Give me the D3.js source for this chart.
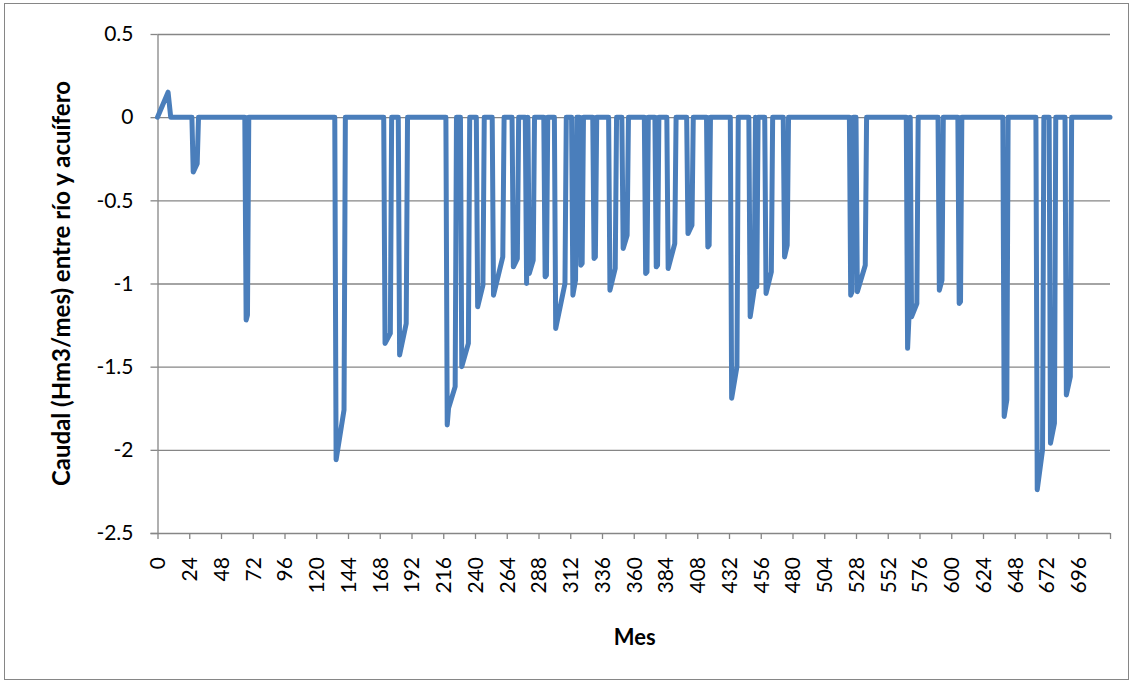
<!DOCTYPE html>
<html>
<head>
<meta charset="utf-8">
<script src="https://cdn.jsdelivr.net/npm/d3@7"></script>
<style>
  body { margin: 0; background: #fff; }
  text { font-family: Lato, "Open Sans", sans-serif; }
</style>
</head>
<body>
<div id="chart"></div>
<script>
// mes / caudal: puntos (entre puntos el valor es 0)
const months = [
  0, 8, 10,
  26, 27, 30, 31,
  66, 67, 68, 69,
  134, 135, 141, 142,
  171, 172, 176, 177,
  182, 183, 188, 189,
  218, 219, 220, 225, 226,
  229, 230, 235, 236,
  241, 242, 246, 247,
  253, 254, 261, 262,
  268, 269, 272, 273,
  278, 279, 280, 281, 284, 285,
  292, 293, 294, 295,
  300, 301, 308, 309,
  313, 314, 316, 317,
  319, 320, 321, 322,
  329, 330, 331, 332,
  341, 342, 346, 347,
  351, 352, 355, 356,
  368, 369, 370, 371,
  376, 377, 378, 379,
  385, 386, 391, 392,
  400, 401, 404, 405,
  415, 416, 417, 418,
  433, 434, 438, 439,
  447, 448, 451, 452, 453, 454,
  459, 460, 464, 465,
  473, 474, 476, 477,
  523, 524, 525, 526,
  528, 529, 535, 536,
  566, 567, 568, 569, 570, 574, 575,
  590, 591, 593, 594,
  605, 606, 607, 608,
  639, 640, 642, 643,
  664, 665, 669, 670,
  674, 675, 678, 679,
  686, 687, 690, 691,
  720
];
const flow = [
  0, 0.15, 0,
  0, -0.33, -0.28, 0,
  0, -1.22, -1.19, 0,
  0, -2.06, -1.76, 0,
  0, -1.36, -1.30, 0,
  0, -1.43, -1.24, 0,
  0, -1.85, -1.75, -1.62, 0,
  0, -1.50, -1.36, 0,
  0, -1.14, -1.01, 0,
  0, -1.07, -0.84, 0,
  0, -0.90, -0.85, 0,
  0, -1.00, 0, -0.94, -0.86, 0,
  0, -0.96, -0.95, 0,
  0, -1.27, -1.00, 0,
  0, -1.07, -0.98, 0,
  0, -0.89, -0.88, 0,
  0, -0.85, -0.84, 0,
  0, -1.04, -0.91, 0,
  0, -0.79, -0.71, 0,
  0, -0.94, -0.93, 0,
  0, -0.90, -0.89, 0,
  0, -0.91, -0.76, 0,
  0, -0.70, -0.65, 0,
  0, -0.78, -0.77, 0,
  0, -1.69, -1.50, 0,
  0, -1.20, -1.04, 0, -1.02, 0,
  0, -1.06, -0.93, 0,
  0, -0.84, -0.77, 0,
  0, -1.07, -1.05, 0,
  0, -1.05, -0.89, 0,
  0, -1.39, -1.21, 0, -1.20, -1.12, 0,
  0, -1.04, -0.98, 0,
  0, -1.12, -1.11, 0,
  0, -1.80, -1.70, 0,
  0, -2.24, -2.00, 0,
  0, -1.96, -1.84, 0,
  0, -1.67, -1.56, 0,
  0
];
const yTicks = [0.5, 0, -0.5, -1, -1.5, -2, -2.5];
const xTicks = [0, 24, 48, 72, 96, 120, 144, 168, 192, 216, 240, 264, 288, 312, 336,
  360, 384, 408, 432, 456, 480, 504, 528, 552, 576, 600, 624, 648, 672, 696, 720];
const xLabels = xTicks.filter(d => d < 720);

const width = 1134, height = 684;
const plot = { left: 157.5, right: 1110, top: 34, bottom: 533 };
const gridColor = "#868686";

const svg = d3.select("#chart").append("svg")
  .attr("width", width)
  .attr("height", height);

// marco exterior
svg.append("rect")
  .attr("x", 4.5).attr("y", 3.5)
  .attr("width", 1124).attr("height", 676)
  .attr("fill", "none")
  .attr("stroke", gridColor)
  .attr("stroke-width", 1);

const x = d3.scaleLinear().domain([0, 720]).range([plot.left, plot.right]);
const y = d3.scaleLinear().domain([-2.5, 0.5]).range([plot.bottom, plot.top]);

// rejilla horizontal
svg.append("g")
  .attr("transform", `translate(${plot.left},0)`)
  .call(d3.axisLeft(y).tickValues(yTicks.filter(d => d > -2.5))
    .tickSize(-(plot.right - plot.left)).tickFormat(""))
  .call(g => g.select(".domain").remove())
  .call(g => g.selectAll("line").attr("stroke", gridColor).attr("stroke-width", 1.3));

// eje Y (guion normal como en el original)
svg.append("g")
  .attr("transform", `translate(${plot.left},0)`)
  .call(d3.axisLeft(y).tickValues(yTicks).tickSize(7).tickSizeOuter(0).tickPadding(17)
    .tickFormat(d => String(d)))
  .call(g => g.select(".domain").attr("stroke", gridColor).attr("stroke-width", 1.3))
  .call(g => g.selectAll("line").attr("stroke", gridColor).attr("stroke-width", 1.3))
  .call(g => g.selectAll("text").attr("font-size", 21).attr("fill", "#000")
    .attr("font-family", "Lato, sans-serif"));

// eje X
const xAxis = svg.append("g")
  .attr("transform", `translate(0,${plot.bottom})`)
  .call(d3.axisBottom(x).tickValues(xTicks).tickSize(6).tickSizeOuter(0)
    .tickFormat(d => xLabels.includes(d) ? d : ""))
  .call(g => g.select(".domain").attr("d", `M${plot.left - 7},0.5H${plot.right}`)
    .attr("stroke", gridColor).attr("stroke-width", 1.3))
  .call(g => g.selectAll("line").attr("stroke", gridColor).attr("stroke-width", 1.3));

xAxis.selectAll("text")
  .attr("font-size", 21)
  .attr("fill", "#000")
  .attr("font-family", "Lato, sans-serif")
  .attr("text-anchor", "end")
  .attr("transform", "rotate(-90)")
  .attr("x", -24)
  .attr("y", 0)
  .attr("dy", "0.35em");

// serie
const line = d3.line()
  .x((d, i) => x(months[i]))
  .y(d => y(d));

svg.append("path")
  .datum(flow)
  .attr("d", line)
  .attr("fill", "none")
  .attr("stroke", "#4a7ebb")
  .attr("stroke-width", 5)
  .attr("stroke-linejoin", "round")
  .attr("stroke-linecap", "round");

// títulos
svg.append("text")
  .attr("x", (plot.left + plot.right) / 2 + 1)
  .attr("y", 645)
  .attr("text-anchor", "middle")
  .attr("font-size", 22)
  .attr("font-weight", "bold")
  .text("Mes");

svg.append("text")
  .attr("transform", `translate(70,${(plot.top + plot.bottom) / 2}) rotate(-90)`)
  .attr("text-anchor", "middle")
  .attr("font-size", 24)
  .attr("font-weight", "bold")
  .text("Caudal (Hm3/mes) entre río y acuífero");
</script>
</body>
</html>
